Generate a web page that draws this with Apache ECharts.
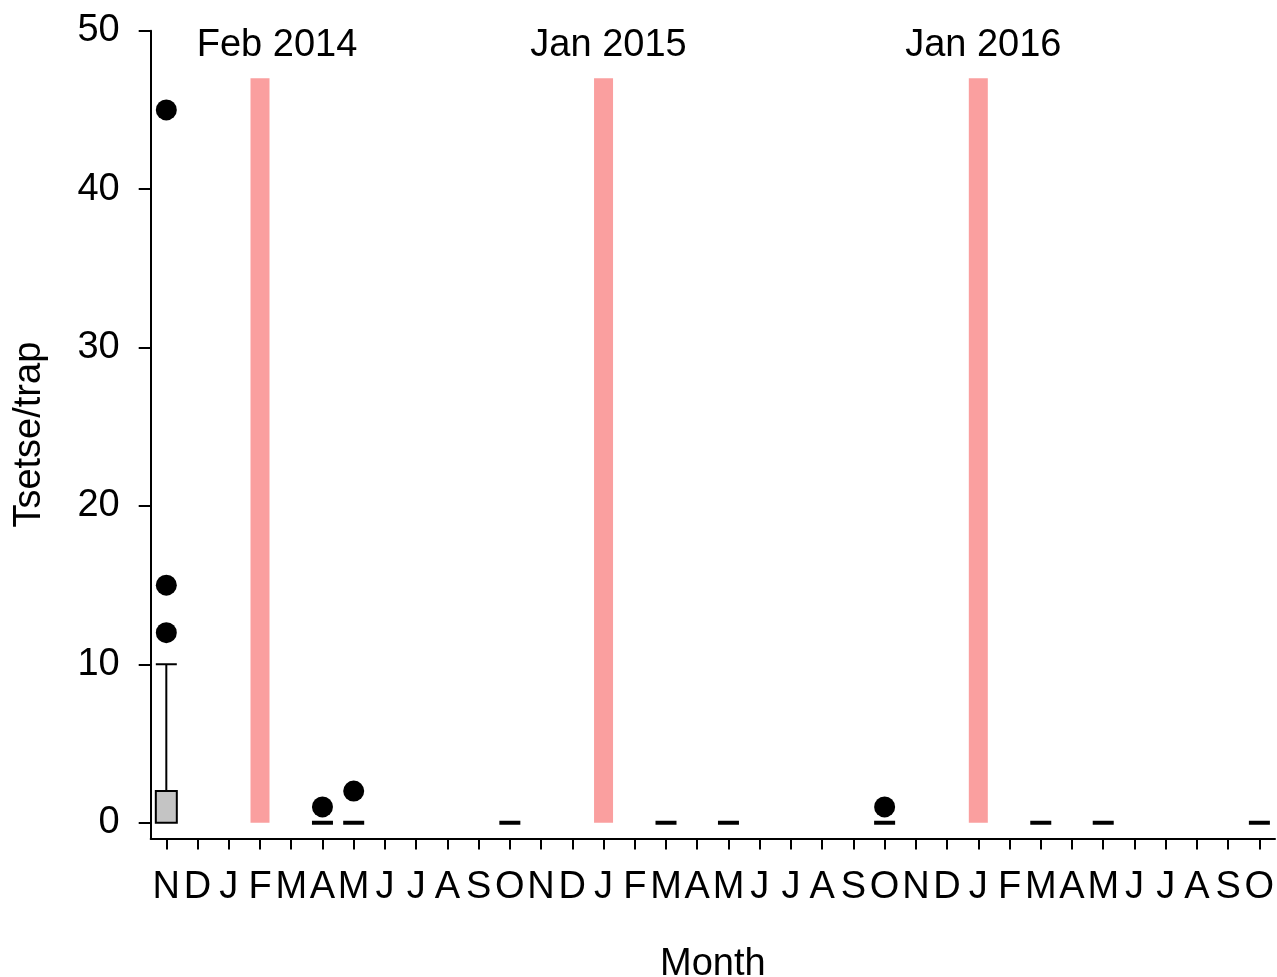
<!DOCTYPE html>
<html>
<head>
<meta charset="utf-8">
<script src="https://cdn.jsdelivr.net/npm/echarts@6/dist/echarts.min.js"></script>
<style>
html,body{margin:0;padding:0;background:#fff;}
#chart{width:1277px;height:977px;}
</style>
</head>
<body>
<div id="chart"></div>
<script>
// ---- data ----
const months = ['N','D','J','F','M','A','M','J','J','A','S','O',
                'N','D','J','F','M','A','M','J','J','A','S','O',
                'N','D','J','F','M','A','M','J','J','A','S','O'];
const yTicks = [0, 10, 20, 30, 40, 50];

// box statistics [min, Q1, median, Q3, max] per sampled month (index into months)
const boxMonthIdx = [0, 5, 6, 11, 16, 18, 23, 28, 30, 35];
const boxStats = [
  [0, 0, 0, 2, 10],
  [0, 0, 0, 0, 0],
  [0, 0, 0, 0, 0],
  [0, 0, 0, 0, 0],
  [0, 0, 0, 0, 0],
  [0, 0, 0, 0, 0],
  [0, 0, 0, 0, 0],
  [0, 0, 0, 0, 0],
  [0, 0, 0, 0, 0],
  [0, 0, 0, 0, 0]
];

// outliers
const outlierIdx = [0, 0, 0, 5, 6, 23];
const outlierVals = [45, 15, 12, 1, 2, 1];

// intervention events
const eventIdx = [3, 14, 26];
const eventLabels = ['Feb 2014', 'Jan 2015', 'Jan 2016'];
const eventHeight = [47, 47, 47];

// ---- chart ----
const FONT = 'Liberation Sans, Arial, Helvetica, sans-serif';
const FS = 38;
const labelOffsets = [[17, 0], [5, 0], [5, 0]];

const chart = echarts.init(document.getElementById('chart'));
chart.setOption({
  backgroundColor: '#fff',
  animation: false,
  grid: { left: 150.7, right: 2, top: 30.7, bottom: 138.4, containLabel: false, outerBoundsMode: 'none' },
  xAxis: {
    type: 'category',
    data: months,
    boundaryGap: true,
    name: 'Month',
    nameLocation: 'middle',
    nameGap: 107,
    nameTextStyle: { fontFamily: FONT, fontSize: FS, color: '#000' },
    axisLine: { onZero: false, lineStyle: { color: '#000', width: 2 } },
    axisTick: { show: true, alignWithLabel: true, interval: 0, length: 11, lineStyle: { color: '#000', width: 2 } },
    axisLabel: { interval: 0, margin: 30, fontFamily: FONT, fontSize: FS, color: '#000' },
    splitLine: { show: false }
  },
  yAxis: {
    type: 'value',
    min: -1,
    max: 50,
    name: 'Tsetse/trap',
    nameLocation: 'middle',
    nameGap: 102,
    nameTextStyle: { fontFamily: FONT, fontSize: FS, color: '#000' },
    axisLine: { show: true, lineStyle: { color: '#000', width: 2 } },
    axisTick: { show: true, length: 12, customValues: yTicks, lineStyle: { color: '#000', width: 2 } },
    axisLabel: { margin: 31, customValues: yTicks, fontFamily: FONT, fontSize: FS, color: '#000' },
    splitLine: { show: false }
  },
  series: [
    {
      type: 'bar',
      barWidth: 19,
      z: 1,
      itemStyle: { color: '#FA9F9F' },
      data: eventIdx.map((ix, i) => ({
        value: [ix, eventHeight[i]],
        label: {
          show: true, position: 'top', distance: 14, offset: labelOffsets[i],
          formatter: eventLabels[i],
          fontFamily: FONT, fontSize: FS, color: '#000'
        }
      }))
    },
    {
      type: 'boxplot',
      boxWidth: [21, 21],
      z: 2,
      itemStyle: { color: '#000', borderColor: '#000', borderWidth: 4 },
      encode: { x: 0, y: [1, 2, 3, 4, 5] },
      data: boxMonthIdx.map((ix, i) => {
        const flat = boxStats[i][4] === boxStats[i][0];
        return {
          value: [ix].concat(boxStats[i]),
          itemStyle: flat
            ? { color: '#000', borderColor: '#000', borderWidth: 4 }
            : { color: '#C4C4C4', borderColor: '#000', borderWidth: 2 }
        };
      })
    },
    {
      type: 'scatter',
      symbol: 'circle',
      symbolSize: 21,
      z: 3,
      itemStyle: { color: '#000', opacity: 1 },
      data: outlierIdx.map((ix, i) => [ix, outlierVals[i]])
    }
  ]
});
</script>
</body>
</html>
